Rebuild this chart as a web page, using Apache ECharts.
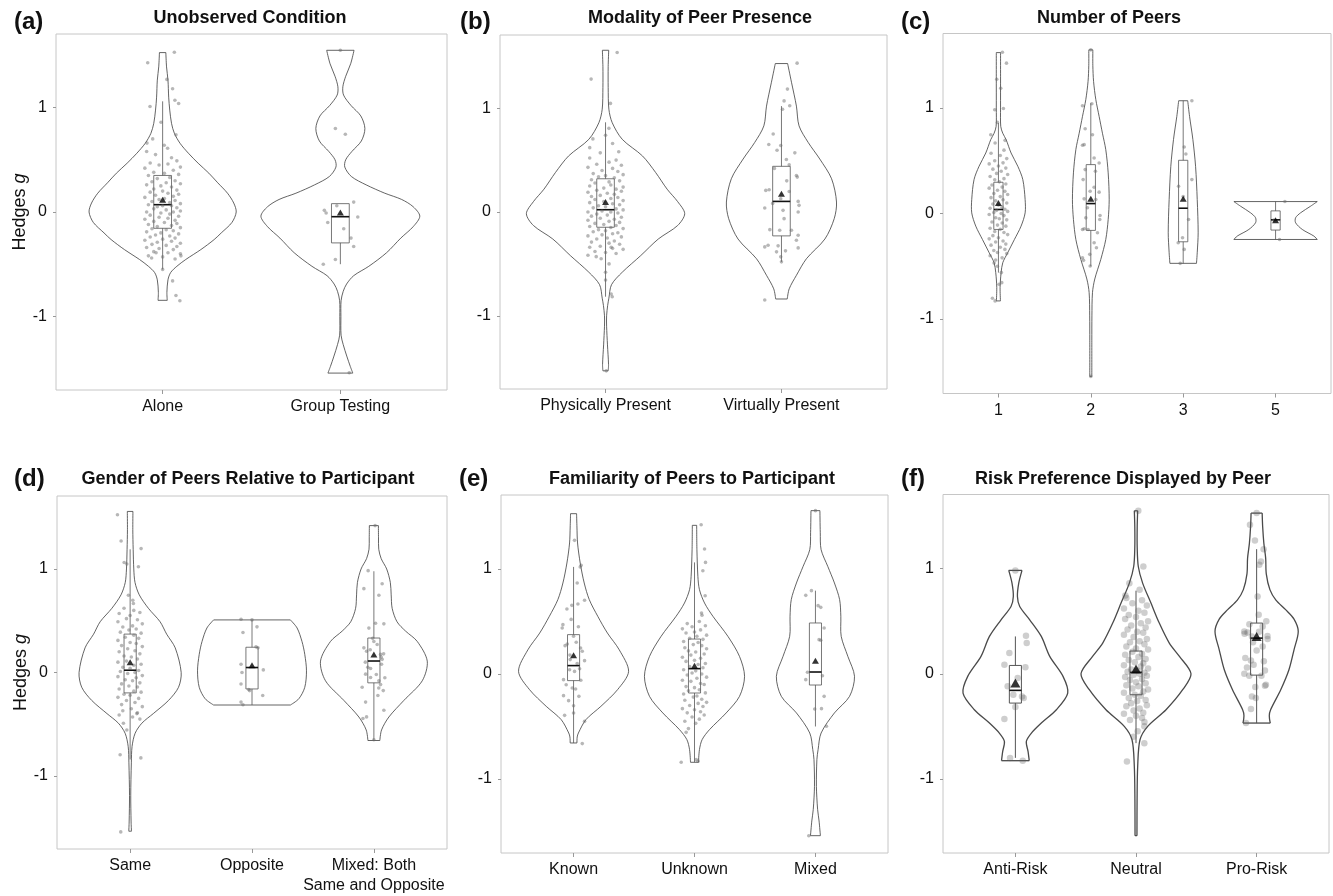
<!DOCTYPE html>
<html>
<head>
<meta charset="utf-8">
<script src="https://cdn.jsdelivr.net/npm/echarts@6/dist/echarts.min.js"></script>
<style>
  html, body { margin: 0; padding: 0; background: #fff; }
  #chart { width: 1333px; height: 896px; }
</style>
</head>
<body>
<div id="chart"></div>
<script>
// ---------- Panel (a): Unobserved Condition ----------
const catsA = ['Alone', 'Group Testing'];
// violin outlines: [Hedges g, half width in category units], bottom to top
const vAlone = [[-0.846,0.026],[-0.77,0.024],[-0.65,0.03],[-0.58,0.045],[-0.52,0.08],[-0.455,0.13],[-0.36,0.215],[-0.264,0.29],[-0.2,0.33],[-0.1,0.39],[0,0.414],[0.086,0.40],[0.18,0.365],[0.28,0.31],[0.372,0.26],[0.467,0.2],[0.563,0.145],[0.658,0.098],[0.754,0.066],[0.849,0.05],[0.976,0.04],[1.1,0.034],[1.263,0.03],[1.39,0.022],[1.527,0.018]];
const vGroup = [[-1.543,0.07],[-1.48,0.056],[-1.38,0.036],[-1.27,0.016],[-1.18,0.004],[-1.0,0.003],[-0.85,0.004],[-0.76,0.016],[-0.69,0.035],[-0.61,0.075],[-0.52,0.16],[-0.39,0.26],[-0.25,0.34],[-0.14,0.41],[-0.04,0.447],[0.05,0.41],[0.12,0.345],[0.18,0.25],[0.26,0.145],[0.34,0.062],[0.43,0.025],[0.50,0.03],[0.58,0.065],[0.68,0.118],[0.80,0.138],[0.92,0.115],[1.02,0.06],[1.12,0.018],[1.20,0.014],[1.30,0.03],[1.42,0.058],[1.549,0.077]];
// box stats: [lower whisker, Q1, median, Q3, upper whisker]
const boxA = [[-0.55,-0.156,0.07,0.35,1.06],[-0.50,-0.296,-0.045,0.08,0.08]];
const meanA = [0.118, -0.005];
// individual effect sizes: [jitter offset, Hedges g]
const ptsAlone = [[-0.084,1.43],[0.066,1.53],[0.024,1.27],[0.056,1.18],[-0.071,1.01],[0.069,1.07],[0.09,1.04],[-0.009,0.86],[0.075,0.74],[-0.088,0.66],[-0.056,0.70],[0.009,0.64],[0.028,0.61],
  [-0.09,0.58],[-0.04,0.55],[0.05,0.52],[0.08,0.49],[-0.07,0.47],[-0.02,0.45],[0.03,0.46],[0.1,0.43],[-0.1,0.42],[0.06,0.40],[-0.05,0.38],[0.01,0.37],[0.09,0.36],[-0.08,0.35],[0.04,0.33],[-0.03,0.32],[0.07,0.30],[-0.06,0.29],[0.02,0.28],[0.1,0.27],
  [-0.09,0.26],[-0.01,0.25],[0.05,0.24],[-0.05,0.22],[0.08,0.21],[0.0,0.20],[-0.07,0.19],[0.03,0.18],[0.09,0.17],[-0.04,0.16],[0.06,0.15],[-0.1,0.14],[0.01,0.13],[-0.02,0.12],[0.07,0.11],[-0.06,0.10],[0.04,0.09],[0.1,0.08],[-0.08,0.07],[0.0,0.06],[0.05,0.06],[-0.03,0.05],[0.08,0.04],[-0.05,0.03],[0.02,0.02],[0.1,0.01],[-0.09,0.0],[0.06,0.0],[-0.01,-0.01],
  [0.04,-0.02],[-0.07,-0.03],[0.09,-0.04],[-0.02,-0.05],[0.03,-0.06],[-0.1,-0.07],[0.07,-0.08],[-0.05,-0.09],[0.01,-0.10],[0.08,-0.11],[-0.08,-0.12],[0.05,-0.13],[-0.03,-0.14],[0.1,-0.15],[-0.06,-0.16],[0.02,-0.17],[0.06,-0.18],[-0.09,-0.19],[-0.01,-0.20],[0.09,-0.21],[-0.04,-0.22],[0.04,-0.23],[-0.07,-0.24],[0.07,-0.25],[0.0,-0.26],[-0.1,-0.27],[0.05,-0.28],[-0.03,-0.29],[0.1,-0.30],
  [-0.06,-0.31],[0.02,-0.32],[0.08,-0.33],[-0.09,-0.34],[-0.02,-0.35],[0.06,-0.36],[-0.05,-0.38],[0.03,-0.39],[0.1,-0.40],[-0.08,-0.42],[0.0,-0.43],[0.07,-0.45],
  [0.0,-0.55],[0.056,-0.66],[0.075,-0.80],[0.097,-0.85],[0.103,-0.42],[-0.062,-0.44],[-0.037,-0.39]];
const ptsGroup = [[-0.028,0.80],[0.028,0.745],[-0.09,0.016],[-0.08,-0.01],[-0.02,0.06],[0.075,0.095],[0.098,-0.048],[-0.071,-0.10],[0.019,-0.16],[0.06,-0.25],[0.075,-0.33],[-0.028,-0.455],[-0.096,-0.50],[0.05,-1.54],[0.0,1.55]];

// ---------- Panel (b): Modality of Peer Presence ----------
const catsB = ['Physically Present', 'Virtually Present'];
const vPhys = [[-1.53,0.015],[-1.47,0.017],[-1.28,0.011],[-1.1,0.006],[-1.0,0.006],[-0.9,0.012],[-0.83,0.019],[-0.70,0.034],[-0.58,0.095],[-0.42,0.2],[-0.26,0.30],[-0.13,0.41],[-0.016,0.45],[0.1,0.41],[0.22,0.35],[0.38,0.285],[0.54,0.21],[0.70,0.095],[0.86,0.038],[0.99,0.019],[1.2,0.015],[1.4,0.015],[1.558,0.018]];
const vVirt = [[-0.838,0.033],[-0.74,0.044],[-0.61,0.085],[-0.45,0.142],[-0.26,0.247],[-0.064,0.30],[0.096,0.313],[0.32,0.285],[0.51,0.218],[0.67,0.152],[0.83,0.10],[1.02,0.085],[1.25,0.057],[1.43,0.035]];
const boxB = [[-0.816,-0.147,0.022,0.32,0.864],[-0.48,-0.23,0.102,0.44,1.02]];
const meanB = [0.096, 0.176];
const ptsPhys = [[-0.082,1.28],[0.066,1.536],[0.028,1.046],[0.019,0.806],[-0.072,0.704],[0.0,0.74],[-0.09,0.62],[0.04,0.66],[0.075,0.58],[-0.03,0.57],[0.032,-0.79],[0.038,-0.816],[0.0,-0.58],[-0.025,-0.45],[-0.1,-0.416],[-0.053,-0.43],[0.032,-0.34],[0.004,-1.53],[0.0,-0.656],[0.02,-0.5],
  [-0.09,0.52],[0.06,0.50],[0.02,0.48],[-0.05,0.46],[0.09,0.45],[-0.1,0.43],[0.04,0.42],[-0.02,0.40],[0.07,0.39],[-0.07,0.37],[0.1,0.36],[0.0,0.35],[-0.04,0.34],[0.05,0.33],[-0.08,0.31],[0.08,0.30],[0.02,0.29],[-0.06,0.28],[0.03,0.26],[-0.09,0.25],[0.1,0.24],[-0.01,0.23],[0.06,0.22],[-0.05,0.21],[0.09,0.20],[-0.1,0.19],[0.01,0.18],[0.05,0.17],[-0.03,0.16],[-0.08,0.15],[0.07,0.14],[0.03,0.13],[-0.06,0.12],[0.1,0.11],[-0.01,0.10],[-0.09,0.09],[0.04,0.08],[0.08,0.07],[-0.04,0.06],[0.0,0.05],[-0.07,0.04],[0.06,0.03],[0.1,0.02],[-0.02,0.01],[-0.1,0.0],[0.03,0.0],[0.07,-0.01],[-0.05,-0.02],[0.01,-0.03],[-0.08,-0.04],[0.09,-0.05],[-0.03,-0.06],[0.05,-0.07],[-0.1,-0.08],[0.02,-0.09],[0.08,-0.10],[-0.06,-0.11],[-0.01,-0.12],[0.06,-0.13],[-0.09,-0.14],[0.03,-0.15],[0.1,-0.16],[-0.04,-0.17],[0.0,-0.18],[-0.07,-0.19],[0.07,-0.20],[0.04,-0.21],[-0.02,-0.22],[-0.1,-0.23],[0.09,-0.24],[0.01,-0.25],[-0.05,-0.26],[0.05,-0.28],[-0.08,-0.29],[0.02,-0.30],[0.08,-0.31],[-0.03,-0.33],[-0.09,-0.34],[0.04,-0.35],[0.1,-0.36],[-0.06,-0.38],[0.0,-0.39],[0.06,-0.40]];
const ptsVirt = [[0.089,1.434],[0.034,1.184],[0.047,1.024],[0.006,0.99],[0.015,1.07],[-0.047,0.752],[-0.072,0.65],[-0.025,0.595],[0.076,0.57],[0.028,0.505],[0.044,0.454],[0.085,0.352],[0.09,0.336],[-0.089,0.208],[-0.07,0.214],[0.044,0.198],[0.095,0.102],[0.095,0.0],[0.1,0.064],[-0.095,0.038],[-0.05,0.083],[-0.004,0.128],[0.009,0.016],[0.015,-0.064],[-0.066,-0.17],[-0.01,-0.176],[0.057,-0.176],[0.095,-0.224],[0.085,-0.272],[-0.095,-0.336],[-0.076,-0.32],[0.095,-0.346],[-0.019,-0.326],[-0.028,-0.384],[0.023,-0.374],[-0.004,-0.432],[0.0,-0.48],[-0.095,-0.848],[-0.004,0.64],[0.03,0.30],[-0.04,0.42]];

// ---------- Panel (c): Number of Peers ----------
const catsC = ['1', '2', '3', '5'];
const vOne = [[-0.828,0.022],[-0.70,0.018],[-0.56,0.029],[-0.466,0.047],[-0.372,0.10],[-0.246,0.173],[-0.12,0.245],[0.006,0.289],[0.132,0.289],[0.321,0.264],[0.447,0.21],[0.573,0.137],[0.70,0.083],[0.76,0.047],[0.825,0.025],[1.0,0.023],[1.3,0.023],[1.524,0.023]];
const vTwo = [[-1.543,0.011],[-1.2,0.011],[-0.97,0.012],[-0.75,0.018],[-0.62,0.043],[-0.435,0.108],[-0.246,0.162],[-0.057,0.188],[0.13,0.199],[0.385,0.188],[0.605,0.162],[0.76,0.126],[0.92,0.09],[1.08,0.054],[1.25,0.03],[1.4,0.022],[1.55,0.022]];
const vThree = [[-0.472,0.144],[-0.372,0.152],[-0.183,0.162],[0.132,0.152],[0.447,0.134],[0.70,0.105],[0.92,0.069],[1.068,0.049]];
const vFive = [[-0.246,0.451],[-0.214,0.415],[-0.151,0.289],[-0.088,0.217],[-0.04,0.217],[0.006,0.27],[0.069,0.379],[0.113,0.451]];
const boxC = [[-0.56,-0.151,0.038,0.296,0.857],[-0.5,-0.16,0.094,0.463,1.045],[-0.472,-0.268,0.05,0.504,1.068],[-0.246,-0.157,-0.06,0.025,0.113]];
const meanC = [0.10, 0.14, 0.139, -0.063];
const ptsOne = [[0.043,1.528],[0.087,1.424],[-0.018,1.272],[0.025,1.187],[-0.04,0.983],[0.054,0.995],[-0.011,0.863],[-0.083,0.746],[0.072,0.693],[-0.036,0.668],[0.032,-0.56],[0.036,-0.655],[0.007,-0.67],[-0.065,-0.803],[-0.036,-0.828],[-0.011,-0.5],[-0.047,-0.47],
  [0.06,0.60],[-0.08,0.57],[0.02,0.55],[0.09,0.52],[-0.04,0.50],[0.05,0.48],[-0.1,0.47],[0.0,0.45],[0.08,0.43],[-0.06,0.42],[0.03,0.40],[-0.02,0.38],[0.1,0.37],[-0.09,0.35],[0.06,0.33],[-0.04,0.32],[0.01,0.30],[0.08,0.28],[-0.07,0.27],[0.04,0.25],[-0.1,0.24],[-0.01,0.22],[0.07,0.21],[-0.05,0.19],[0.1,0.18],[0.02,0.16],[-0.08,0.15],[0.05,0.13],[-0.03,0.12],[0.09,0.10],[-0.06,0.09],[0.0,0.08],[0.04,0.06],[-0.09,0.05],[0.07,0.04],[-0.02,0.03],[0.1,0.02],[-0.05,0.01],[0.03,0.0],[-0.1,-0.01],[0.06,-0.02],[-0.03,-0.04],[0.01,-0.05],[0.09,-0.06],[-0.07,-0.08],[0.04,-0.09],[-0.01,-0.11],[0.08,-0.12],[-0.09,-0.14],[0.02,-0.15],[-0.04,-0.17],[0.06,-0.18],[0.1,-0.20],[-0.06,-0.21],[0.0,-0.23],[-0.1,-0.24],[0.05,-0.26],[-0.03,-0.27],[0.08,-0.29],[-0.08,-0.30],[0.02,-0.32],[0.07,-0.34],[-0.05,-0.35],[-0.01,-0.37],[0.09,-0.38],[-0.09,-0.40],[0.04,-0.42],[-0.03,-0.44]];
const ptsTwo = [[-0.09,1.02],[0.011,1.04],[-0.061,0.803],[0.018,0.746],[-0.072,0.652],[-0.09,0.646],[0.036,0.526],[0.09,0.479],[-0.061,0.416],[-0.083,0.321],[0.036,0.249],[0.09,0.202],[-0.007,0.211],[-0.072,0.139],[0.054,0.132],[-0.036,0.054],[0.1,-0.019],[0.097,-0.057],[-0.054,-0.041],[-0.09,-0.151],[-0.072,-0.145],[-0.029,-0.151],[0.072,-0.183],[0.036,-0.277],[0.061,-0.324],[-0.09,-0.419],[-0.079,-0.444],[-0.011,-0.387],[-0.007,-0.498],[0.0,-1.543],[0.0,1.55],[0.05,0.40]];
const ptsThree = [[0.094,1.068],[0.011,0.63],[0.029,0.564],[0.094,0.321],[-0.05,0.258],[0.058,-0.057],[-0.007,-0.23],[-0.054,-0.277],[0.011,-0.34],[-0.032,-0.472],[0.0,0.16]];
const ptsFive = [[0.101,0.113],[0.043,-0.246],[-0.018,-0.063]];

// ---------- Panel (d): Gender of Peers Relative to Participant ----------
const catsD = ['Same', 'Opposite', 'Mixed: Both\nSame and Opposite'];
const vSame = [[-1.533,0.011],[-1.444,0.008],[-1.19,0.005],[-0.873,0.01],[-0.714,0.016],[-0.587,0.041],[-0.49,0.096],[-0.397,0.19],[-0.27,0.315],[-0.143,0.397],[0,0.419],[0.238,0.37],[0.37,0.30],[0.49,0.246],[0.62,0.15],[0.75,0.075],[0.87,0.04],[1.0,0.03],[1.19,0.025],[1.38,0.022],[1.556,0.023]];
const vOpp = [[-0.314,0.315],[-0.254,0.384],[-0.143,0.433],[0.016,0.447],[0.175,0.433],[0.30,0.41],[0.43,0.37],[0.508,0.315]];
const vMixG = [[-0.657,0.049],[-0.555,0.063],[-0.43,0.123],[-0.27,0.246],[-0.08,0.397],[0.11,0.438],[0.30,0.356],[0.40,0.26],[0.49,0.19],[0.62,0.15],[0.75,0.142],[0.87,0.135],[1.0,0.105],[1.1,0.06],[1.19,0.04],[1.3,0.038],[1.419,0.037]];
const boxD = [[-0.84,-0.197,0.022,0.371,1.19],[-0.314,-0.159,0.048,0.244,0.508],[-0.657,-0.1,0.111,0.333,0.978]];
const meanD = [0.10, 0.07, 0.175];
const ptsSame = [[-0.104,1.524],[-0.074,1.27],[0.09,1.197],[-0.049,1.063],[-0.027,1.048],[0.068,1.022],[-0.014,0.746],[0.022,0.698],[0.027,0.667],[-0.082,-0.794],[0.088,-0.825],[-0.077,-1.54],[-0.027,-0.556],[-0.055,-0.49],[0.055,-0.397],
  [-0.05,0.62],[0.03,0.60],[0.08,0.58],[-0.09,0.57],[0.0,0.55],[-0.03,0.52],[0.06,0.51],[-0.1,0.49],[0.1,0.47],[0.02,0.45],[-0.06,0.44],[0.05,0.42],[-0.01,0.41],[-0.08,0.39],[0.09,0.38],[0.03,0.36],[-0.04,0.34],[0.07,0.33],[-0.1,0.31],[0.0,0.29],[0.05,0.28],[-0.07,0.26],[0.1,0.25],[-0.02,0.23],[0.04,0.21],[-0.09,0.20],[0.08,0.18],[-0.05,0.16],[0.01,0.15],[0.06,0.13],[-0.03,0.11],[-0.1,0.10],[0.09,0.08],[0.03,0.07],[-0.06,0.05],[0.0,0.04],[0.07,0.02],[-0.08,0.01],[0.04,0.0],[-0.02,-0.01],[0.1,-0.03],[-0.1,-0.04],[0.05,-0.05],[-0.04,-0.07],[0.02,-0.08],[0.08,-0.10],[-0.07,-0.11],[-0.01,-0.13],[0.06,-0.14],[-0.09,-0.16],[0.03,-0.18],[0.09,-0.19],[-0.05,-0.21],[0.0,-0.22],[-0.1,-0.24],[0.07,-0.25],[-0.03,-0.27],[0.04,-0.29],[-0.07,-0.31],[0.1,-0.33],[0.01,-0.35],[-0.06,-0.37],[0.06,-0.39],[-0.09,-0.41],[0.02,-0.43],[0.08,-0.45]];
const ptsOpp = [[-0.09,0.514],[-0.074,0.387],[0.041,0.441],[0.033,0.248],[0.049,0.238],[-0.09,0.079],[0.093,0.025],[-0.082,0.0],[-0.09,-0.111],[-0.027,-0.165],[-0.019,-0.175],[0.088,-0.222],[-0.09,-0.286],[-0.074,-0.311],[0.0,0.508]];
const ptsMixG = [[-0.047,0.984],[-0.082,0.81],[0.068,0.857],[0.041,0.746],[-0.041,0.429],[0.014,0.476],[0.082,0.47],[-0.082,0.238],[-0.06,0.206],[0.027,0.27],[0.055,0.175],[0.068,0.127],[0.063,0.079],[-0.027,0.038],[-0.068,-0.016],[-0.027,-0.048],[0.041,-0.079],[0.055,-0.117],[0.077,-0.175],[-0.096,-0.143],[0.033,-0.222],[0.082,-0.365],[-0.068,-0.286],[-0.06,-0.429],[-0.09,-0.444],[0.0,-0.65],
  [0.0,0.30],[-0.03,0.22],[0.06,0.15],[-0.05,0.05],[0.02,-0.02],[0.08,0.18],[-0.07,0.10],[0.04,-0.15],[-0.01,0.33],[0.09,-0.05],[0.01,1.419]];

// ---------- Panel (e): Familiarity of Peers to Participant ----------
const catsE = ['Known', 'Unknown', 'Mixed'];
const vKnown = [[-0.657,0.028],[-0.60,0.03],[-0.562,0.04],[-0.435,0.102],[-0.308,0.226],[-0.149,0.364],[0.025,0.455],[0.23,0.378],[0.39,0.28],[0.55,0.2],[0.708,0.13],[0.867,0.088],[1.057,0.055],[1.248,0.033],[1.40,0.028],[1.527,0.025]];
const vUnknown = [[-0.841,0.033],[-0.72,0.041],[-0.625,0.063],[-0.53,0.124],[-0.371,0.262],[-0.213,0.372],[-0.022,0.414],[0.168,0.372],[0.359,0.276],[0.55,0.152],[0.676,0.083],[0.803,0.041],[0.93,0.028],[1.184,0.02],[1.416,0.018]];
const vMixF = [[-1.54,0.041],[-1.40,0.03],[-1.29,0.018],[-1.07,0.008],[-0.816,0.012],[-0.72,0.022],[-0.562,0.047],[-0.371,0.157],[-0.213,0.282],[-0.022,0.323],[0.168,0.268],[0.359,0.213],[0.55,0.21],[0.708,0.2],[0.867,0.157],[1.025,0.102],[1.184,0.047],[1.35,0.04],[1.556,0.037]];
const boxE = [[-0.657,-0.063,0.08,0.375,1.02],[-0.84,-0.181,0.051,0.333,1.063],[-0.5,-0.105,0.019,0.486,0.794]];
const meanE = [0.178, 0.079, 0.127];
const ptsKnown = [[0.008,1.273],[0.063,1.035],[0.055,1.019],[0.03,0.867],[0.091,0.702],[0.036,0.667],[-0.014,0.654],[-0.055,0.619],[-0.088,0.47],[-0.094,0.438],[0.022,0.302],[-0.052,0.286],[0.058,0.248],[0.072,0.216],[0.091,0.127],[-0.028,0.137],[-0.033,0.041],[0.008,0.025],[-0.083,-0.054],[-0.061,-0.102],[-0.011,-0.133],[0.017,-0.143],[-0.083,-0.206],[0.044,-0.213],[-0.041,-0.254],[0.0,-0.302],[-0.074,-0.394],[0.0,-0.371],[0.091,-0.451],[0.072,-0.663],
  [0.05,0.05],[-0.03,0.18],[0.0,0.36],[0.06,-0.06],[-0.07,0.27],[0.03,0.10],[0.04,0.45],[-0.02,0.52]];
const ptsUnknown = [[0.055,1.422],[0.083,1.19],[0.091,1.063],[0.069,0.984],[0.088,0.746],[0.058,0.581],[0.062,0.56],[-0.069,-0.556],[-0.11,-0.841],[0.014,-0.816],[0.03,-0.83],[-0.05,-0.52],
  [0.04,0.50],[-0.06,0.48],[0.09,0.46],[-0.02,0.45],[-0.1,0.43],[0.05,0.42],[0.0,0.40],[-0.07,0.39],[0.1,0.37],[0.02,0.36],[-0.04,0.34],[0.07,0.33],[-0.09,0.31],[0.03,0.30],[-0.01,0.28],[0.06,0.27],[-0.08,0.25],[0.1,0.24],[-0.05,0.22],[0.01,0.21],[0.08,0.19],[-0.03,0.18],[-0.1,0.16],[0.05,0.15],[0.0,0.13],[-0.07,0.12],[0.09,0.10],[0.03,0.09],[-0.04,0.07],[0.07,0.06],[-0.09,0.04],[0.01,0.03],[-0.02,0.01],[0.06,0.0],[-0.06,-0.01],[0.1,-0.03],[0.02,-0.04],[-0.1,-0.06],[-0.03,-0.07],[0.05,-0.09],[0.08,-0.10],[-0.07,-0.12],[0.0,-0.13],[0.04,-0.15],[-0.05,-0.16],[0.09,-0.18],[-0.09,-0.19],[0.02,-0.21],[-0.01,-0.22],[0.06,-0.24],[-0.08,-0.25],[0.1,-0.27],[0.03,-0.28],[-0.04,-0.30],[0.07,-0.31],[-0.1,-0.33],[0.0,-0.34],[0.05,-0.36],[-0.06,-0.37],[0.08,-0.39],[-0.02,-0.41],[0.04,-0.43],[-0.08,-0.45],[0.01,-0.47]];
const ptsMixF = [[-0.033,0.794],[-0.08,0.749],[0.022,0.651],[0.044,0.635],[0.072,0.438],[0.03,0.327],[0.044,0.321],[-0.066,0.016],[-0.08,-0.054],[0.058,-0.016],[0.072,-0.213],[-0.006,-0.333],[0.05,-0.33],[0.091,-0.498],[-0.055,-1.54],[0.0,1.556]];

// ---------- Panel (f): Risk Preference Displayed by Peer ----------
const catsF = ['Anti-Risk', 'Neutral', 'Pro-Risk'];
const vAnti = [[-0.827,0.115],[-0.739,0.105],[-0.643,0.091],[-0.564,0.133],[-0.469,0.215],[-0.342,0.34],[-0.184,0.434],[-0.025,0.395],[0.165,0.285],[0.355,0.215],[0.513,0.119],[0.64,0.036],[0.735,0.017],[0.862,0.028],[0.983,0.055]];
const vNeutral = [[-1.54,0.008],[-1.2,0.009],[-0.88,0.014],[-0.628,0.033],[-0.5,0.097],[-0.342,0.249],[-0.152,0.387],[0,0.456],[0.165,0.36],[0.292,0.276],[0.482,0.193],[0.672,0.124],[0.862,0.055],[1.02,0.019],[1.2,0.01],[1.4,0.01],[1.55,0.014]];
const vPro = [[-0.469,0.113],[-0.40,0.105],[-0.342,0.116],[-0.152,0.2],[0.038,0.268],[0.228,0.31],[0.403,0.345],[0.52,0.31],[0.61,0.24],[0.70,0.16],[0.80,0.11],[0.95,0.08],[1.1,0.075],[1.24,0.06],[1.4,0.05],[1.528,0.046]];
const boxF = [[-0.8,-0.279,-0.158,0.079,0.355],[-0.66,-0.2,0.013,0.216,0.79],[-0.469,-0.013,0.339,0.482,1.185]];
const meanF = [-0.089, 0.044, 0.355];
const ptsAnti = [[0.0,0.983],[0.088,0.361],[0.094,0.292],[-0.05,0.197],[-0.091,0.086],[0.083,0.063],[0.019,-0.041],[-0.064,-0.12],[0.055,-0.216],[0.069,-0.231],[0.0,-0.317],[-0.091,-0.431],[-0.044,-0.802],[0.061,-0.827],[-0.017,-0.2]];
const ptsNeutral = [[0.019,1.55],[0.061,1.02],[-0.055,0.862],[-0.088,0.745],[-0.075,-0.834],[0.069,-0.66],[0.014,-0.548],[0.069,-0.5],[0.03,0.8],[-0.02,-0.6],
  [-0.08,0.72],[0.05,0.70],[-0.03,0.67],[0.09,0.65],[-0.1,0.62],[0.02,0.60],[0.07,0.58],[-0.06,0.56],[0.0,0.54],[-0.09,0.52],[0.1,0.50],[0.04,0.48],[-0.04,0.46],[0.08,0.44],[-0.07,0.42],[0.01,0.40],[0.06,0.39],[-0.1,0.37],[-0.02,0.35],[0.09,0.33],[0.03,0.31],[-0.05,0.30],[0.07,0.28],[-0.08,0.26],[0.0,0.24],[0.1,0.23],[-0.03,0.21],[0.05,0.19],[-0.09,0.18],[0.02,0.16],[0.08,0.14],[-0.06,0.13],[-0.01,0.11],[0.06,0.10],[-0.1,0.08],[0.04,0.07],[0.1,0.05],[-0.04,0.04],[0.01,0.03],[-0.07,0.02],[0.07,0.01],[0.03,0.0],[-0.02,-0.01],[0.09,-0.02],[-0.09,-0.03],[0.05,-0.05],[-0.05,-0.06],[0.0,-0.08],[0.08,-0.09],[-0.08,-0.11],[0.02,-0.12],[-0.03,-0.14],[0.1,-0.15],[0.06,-0.17],[-0.1,-0.18],[-0.01,-0.20],[0.04,-0.21],[-0.06,-0.23],[0.08,-0.25],[0.01,-0.26],[-0.04,-0.28],[0.09,-0.30],[-0.08,-0.31],[0.03,-0.33],[-0.02,-0.35],[0.06,-0.37],[-0.1,-0.38],[0.0,-0.40],[0.05,-0.42],[-0.05,-0.44],[0.07,-0.46]];
const ptsPro = [[-0.055,1.417],[-0.014,1.268],[0.058,1.185],[0.036,1.068],[0.022,1.036],[0.008,0.735],[0.017,0.561],[-0.102,0.403],[-0.075,0.393],[-0.039,0.355],[0.091,0.33],[0.05,0.26],[-0.094,0.149],[-0.047,0.127],[-0.025,0.086],[0.069,0.032],[-0.102,0.0],[-0.061,-0.019],[-0.011,-0.127],[0.069,-0.114],[0.077,-0.105],[-0.039,-0.216],[-0.006,-0.231],[-0.047,-0.336],[-0.088,-0.469],
  [0.05,0.45],[-0.06,0.47],[0.02,0.40],[0.08,0.5],[-0.03,0.3],[0.0,0.22],[0.06,0.12],[-0.08,0.06],[0.04,-0.02],[0.09,0.36],[-0.1,0.38],[0.0,1.528]];

// ---------- drawing ----------
const FONT = '"Liberation Sans", Arial, Helvetica, sans-serif';
const TEXT = '#111';
const Y_TICKS = [-1, 0, 1];
const BOX_HALF = 0.05;

const panels = [
  { letter: '(a)', title: 'Unobserved Condition', cats: catsA, violins: [vAlone, vGroup], boxes: boxA, means: meanA, points: [ptsAlone, ptsGroup],
    grid: { left: 56, top: 34, width: 391, height: 356 }, titleX: 250, titleY: 18, letterX: 14, letterY: 22, yName: true },
  { letter: '(b)', title: 'Modality of Peer Presence', cats: catsB, violins: [vPhys, vVirt], boxes: boxB, means: meanB, points: [ptsPhys, ptsVirt],
    grid: { left: 500, top: 35, width: 387, height: 354 }, titleX: 700, titleY: 18, letterX: 460, letterY: 22 },
  { letter: '(c)', title: 'Number of Peers', cats: catsC, violins: [vOne, vTwo, vThree, vFive], boxes: boxC, means: meanC, points: [ptsOne, ptsTwo, ptsThree, ptsFive],
    grid: { left: 943, top: 33.5, width: 388, height: 360 }, titleX: 1109, titleY: 18, letterX: 901, letterY: 22 },
  { letter: '(d)', title: 'Gender of Peers Relative to Participant', cats: catsD, violins: [vSame, vOpp, vMixG], boxes: boxD, means: meanD, points: [ptsSame, ptsOpp, ptsMixG],
    grid: { left: 57, top: 496, width: 390, height: 358 }, titleX: 248, titleY: 479, letterX: 14, letterY: 479, yName: true },
  { letter: '(e)', title: 'Familiarity of Peers to Participant', cats: catsE, violins: [vKnown, vUnknown, vMixF], boxes: boxE, means: meanE, points: [ptsKnown, ptsUnknown, ptsMixF],
    grid: { left: 501, top: 495, width: 387, height: 358 }, titleX: 692, titleY: 479, letterX: 459, letterY: 479 },
  { letter: '(f)', title: 'Risk Preference Displayed by Peer', cats: catsF, violins: [vAnti, vNeutral, vPro], boxes: boxF, means: meanF, points: [ptsAnti, ptsNeutral, ptsPro],
    grid: { left: 943, top: 494.5, width: 386, height: 358.5 }, titleX: 1123, titleY: 479, letterX: 901, letterY: 479, heavy: true }
];

function violinRenderer(profiles, stroke, width) {
  return function (params, api) {
    const i = api.value(0);
    const prof = profiles[i];
    const right = prof.map(p => api.coord([i + p[1], p[0]]));
    const left = prof.map(p => api.coord([i - p[1], p[0]]));
    const n = prof.length - 1;
    const st = { stroke: stroke, lineWidth: width, fill: 'none' };
    return {
      type: 'group',
      children: [
        { type: 'polyline', shape: { points: right, smooth: 0.3 }, style: st },
        { type: 'polyline', shape: { points: left, smooth: 0.3 }, style: st },
        { type: 'line', shape: { x1: left[0][0], y1: left[0][1], x2: right[0][0], y2: right[0][1] }, style: st },
        { type: 'line', shape: { x1: left[n][0], y1: left[n][1], x2: right[n][0], y2: right[n][1] }, style: st }
      ]
    };
  };
}

function boxRenderer(stroke, width) {
  return function (params, api) {
    const i = api.value(0);
    const lo = api.value(1), q1 = api.value(2), med = api.value(3), q3 = api.value(4), hi = api.value(5);
    const tl = api.coord([i - BOX_HALF, q3]);
    const br = api.coord([i + BOX_HALF, q1]);
    const m1 = api.coord([i - BOX_HALF, med]);
    const m2 = api.coord([i + BOX_HALF, med]);
    const wTop = api.coord([i, hi]), bTop = api.coord([i, q3]);
    const bBot = api.coord([i, q1]), wBot = api.coord([i, lo]);
    const st = { stroke: stroke, lineWidth: width, fill: 'none' };
    return {
      type: 'group',
      children: [
        { type: 'line', shape: { x1: wTop[0], y1: wTop[1], x2: bTop[0], y2: bTop[1] }, style: st },
        { type: 'line', shape: { x1: bBot[0], y1: bBot[1], x2: wBot[0], y2: wBot[1] }, style: st },
        { type: 'rect', shape: { x: tl[0], y: tl[1], width: br[0] - tl[0], height: br[1] - tl[1] }, style: st },
        { type: 'line', shape: { x1: m1[0], y1: m1[1], x2: m2[0], y2: m2[1] }, style: { stroke: '#111', lineWidth: 1.6 } }
      ]
    };
  };
}

const option = {
  animation: false,
  backgroundColor: '#fff',
  textStyle: { fontFamily: FONT },
  grid: [], xAxis: [], yAxis: [], series: [], graphic: []
};

panels.forEach((p, k) => {
  const n = p.cats.length;
  const idx = p.cats.map((c, i) => i);
  option.grid.push(Object.assign({ show: true, borderColor: '#c6c6c6', borderWidth: 1, backgroundColor: 'transparent' }, p.grid));
  option.xAxis.push({
    type: 'value', gridIndex: k, min: -0.6, max: n - 0.4, position: 'bottom',
    axisLine: { show: false, onZero: false }, splitLine: { show: false },
    axisTick: { show: true, customValues: idx, length: 4, lineStyle: { color: '#999', width: 1 } },
    axisLabel: { customValues: idx, formatter: v => p.cats[Math.round(v)], fontSize: 16, color: TEXT, margin: 7, lineHeight: 20, fontFamily: FONT }
  });
  const y = {
    type: 'value', gridIndex: k, min: -1.705, max: 1.705, position: 'left',
    axisLine: { show: false, onZero: false }, splitLine: { show: false },
    axisTick: { show: true, customValues: Y_TICKS, length: 3, lineStyle: { color: '#999', width: 1 } },
    axisLabel: { customValues: Y_TICKS, formatter: v => String(v), fontSize: 16, color: TEXT, margin: 9, fontFamily: FONT }
  };
  if (p.yName) {
    Object.assign(y, {
      name: '{n|Hedges }{i|g}', nameLocation: 'middle', nameRotate: 90, nameGap: 27,
      nameTextStyle: { rich: {
        n: { fontSize: 18, color: TEXT, fontFamily: FONT },
        i: { fontSize: 18, color: TEXT, fontFamily: FONT, fontStyle: 'italic' }
      } }
    });
  }
  option.yAxis.push(y);

  const heavy = !!p.heavy;
  option.series.push({
    type: 'custom', xAxisIndex: k, yAxisIndex: k, silent: true, z: 2,
    renderItem: violinRenderer(p.violins, heavy ? '#4a4a4a' : '#3c3c3c', heavy ? 1.3 : 0.8),
    data: idx.map(i => [i, 0]), encode: { x: 0, y: 1 }
  });
  option.series.push({
    type: 'custom', xAxisIndex: k, yAxisIndex: k, silent: true, z: 3,
    renderItem: boxRenderer('#555', heavy ? 1.0 : 0.8),
    data: p.boxes.map((b, i) => [i].concat(b)), encode: { x: 0, y: [1, 2, 3, 4, 5] }
  });
  const pts = [];
  p.points.forEach((grp, i) => grp.forEach(d => pts.push([i + d[0], d[1]])));
  option.series.push({
    type: 'scatter', xAxisIndex: k, yAxisIndex: k, silent: true, z: 4,
    symbolSize: heavy ? 6.5 : 3.6,
    itemStyle: { color: heavy ? 'rgba(95,95,95,0.38)' : 'rgba(105,105,105,0.6)', borderWidth: 0 },
    data: pts
  });
  option.series.push({
    type: 'scatter', xAxisIndex: k, yAxisIndex: k, silent: true, z: 5,
    symbol: 'triangle', symbolSize: heavy ? [10, 9] : [7, 6],
    itemStyle: { color: '#000' },
    data: p.means.map((m, i) => [i, m])
  });

  option.graphic.push({
    type: 'text', x: p.titleX, y: p.titleY, silent: true,
    style: { text: p.title, align: 'center', verticalAlign: 'middle', fontSize: 18, fontWeight: 'bold', fontFamily: FONT, fill: TEXT }
  });
  option.graphic.push({
    type: 'text', x: p.letterX, y: p.letterY, silent: true,
    style: { text: p.letter, align: 'left', verticalAlign: 'middle', fontSize: 24, fontWeight: 'bold', fontFamily: FONT, fill: TEXT }
  });
});

const chart = echarts.init(document.getElementById('chart'), null, { renderer: 'canvas' });
chart.setOption(option);
</script>
</body>
</html>
